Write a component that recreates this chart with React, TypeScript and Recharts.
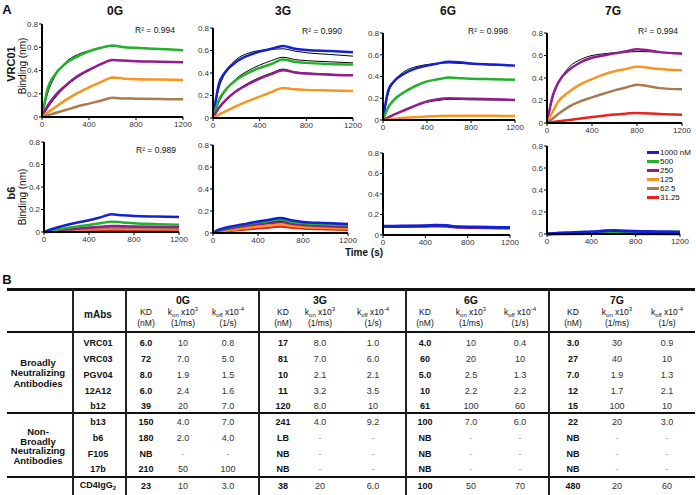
import React from 'react';
import { LineChart, Line, XAxis, YAxis } from 'recharts';

// time points (s)
const TIME = [0, 50, 100, 200, 300, 400, 500, 600, 700, 800, 1000, 1200];

// --- VRC01 row ---
const v0G_500 = [0, 0.25, 0.35, 0.46, 0.52, 0.565, 0.595, 0.615, 0.6, 0.595, 0.585, 0.575];
const v0G_500fit = [0, 0.21, 0.33, 0.47, 0.535, 0.57, 0.595, 0.61, 0.6, 0.595, 0.585, 0.575];
const v0G_250 = [0, 0.1, 0.17, 0.27, 0.35, 0.405, 0.455, 0.49, 0.485, 0.48, 0.475, 0.47];
const v0G_250fit = [0, 0.08, 0.15, 0.26, 0.34, 0.4, 0.45, 0.49, 0.485, 0.48, 0.475, 0.47];
const v0G_125 = [0, 0.04, 0.075, 0.145, 0.205, 0.255, 0.3, 0.34, 0.33, 0.325, 0.322, 0.318];
const v0G_125fit = [0, 0.035, 0.07, 0.14, 0.2, 0.255, 0.3, 0.338, 0.33, 0.326, 0.322, 0.318];
const v0G_62 = [0, 0.015, 0.03, 0.06, 0.09, 0.115, 0.14, 0.165, 0.16, 0.158, 0.155, 0.152];

const v3G_1000 = [0, 0.3, 0.4, 0.5, 0.555, 0.59, 0.615, 0.64, 0.615, 0.605, 0.595, 0.585];
const v3G_1000fit = [0, 0.26, 0.39, 0.52, 0.575, 0.6, 0.61, 0.615, 0.595, 0.58, 0.565, 0.55];
const v3G_500 = [0, 0.16, 0.24, 0.34, 0.4, 0.445, 0.48, 0.52, 0.5, 0.49, 0.48, 0.475];
const v3G_500fit = [0, 0.14, 0.23, 0.35, 0.42, 0.47, 0.51, 0.54, 0.52, 0.51, 0.5, 0.49];
const v3G_250 = [0, 0.09, 0.15, 0.24, 0.3, 0.35, 0.39, 0.425, 0.405, 0.395, 0.385, 0.38];
const v3G_250fit = [0, 0.08, 0.14, 0.24, 0.31, 0.36, 0.4, 0.435, 0.41, 0.4, 0.39, 0.38];
const v3G_125 = [0, 0.03, 0.055, 0.105, 0.15, 0.19, 0.23, 0.267, 0.255, 0.25, 0.245, 0.24];

const v6G_1000 = [0, 0.28, 0.355, 0.43, 0.475, 0.5, 0.52, 0.535, 0.53, 0.52, 0.51, 0.5];
const v6G_1000fit = [0, 0.25, 0.35, 0.45, 0.49, 0.51, 0.52, 0.525, 0.52, 0.515, 0.505, 0.5];
const v6G_500 = [0, 0.12, 0.185, 0.26, 0.315, 0.355, 0.375, 0.39, 0.385, 0.38, 0.375, 0.37];
const v6G_250 = [0, 0.025, 0.05, 0.092, 0.135, 0.17, 0.19, 0.2, 0.197, 0.195, 0.19, 0.185];
const v6G_250fit = [0, 0.025, 0.05, 0.095, 0.135, 0.165, 0.18, 0.19, 0.188, 0.186, 0.184, 0.182];
const v6G_125 = [0, 0.005, 0.01, 0.02, 0.027, 0.032, 0.037, 0.04, 0.04, 0.039, 0.038, 0.037];

const v7G_250 = [0, 0.24, 0.36, 0.475, 0.54, 0.58, 0.6, 0.62, 0.635, 0.655, 0.63, 0.615];
const v7G_250fit = [0, 0.22, 0.35, 0.5, 0.565, 0.6, 0.615, 0.625, 0.63, 0.635, 0.63, 0.62];
const v7G_125 = [0, 0.1, 0.19, 0.28, 0.345, 0.39, 0.43, 0.46, 0.48, 0.5, 0.48, 0.468];
const v7G_62 = [0, 0.04, 0.08, 0.148, 0.195, 0.228, 0.26, 0.29, 0.315, 0.34, 0.31, 0.3];
const v7G_31 = [0, 0.008, 0.015, 0.027, 0.04, 0.053, 0.065, 0.075, 0.083, 0.09, 0.08, 0.074];

// --- b6 row ---
const b0G_1000 = [0, 0.02, 0.035, 0.062, 0.085, 0.105, 0.13, 0.157, 0.148, 0.142, 0.137, 0.133];
const b0G_500 = [0, 0.01, 0.018, 0.035, 0.05, 0.062, 0.078, 0.092, 0.085, 0.078, 0.07, 0.065];
const b0G_250 = [0, 0.006, 0.012, 0.022, 0.031, 0.039, 0.046, 0.054, 0.051, 0.049, 0.046, 0.044];
const b0G_62 = [0, 0.005, 0.009, 0.017, 0.024, 0.03, 0.035, 0.04, 0.038, 0.036, 0.034, 0.032];
const b0G_125 = [0, 0.004, 0.007, 0.013, 0.019, 0.024, 0.028, 0.032, 0.03, 0.028, 0.026, 0.025];
const b0G_31 = [0, 0.002, 0.004, 0.008, 0.012, 0.015, 0.018, 0.02, 0.019, 0.018, 0.017, 0.016];

const b3G_1000 = [0, 0.03, 0.045, 0.066, 0.085, 0.105, 0.12, 0.136, 0.115, 0.1, 0.09, 0.082];
const b3G_500 = [0, 0.025, 0.04, 0.06, 0.078, 0.095, 0.108, 0.12, 0.1, 0.088, 0.078, 0.07];
const b3G_fit = [0, 0.02, 0.035, 0.058, 0.075, 0.09, 0.1, 0.11, 0.095, 0.082, 0.072, 0.065];
const b3G_250 = [0, 0.02, 0.032, 0.05, 0.066, 0.08, 0.09, 0.1, 0.085, 0.072, 0.062, 0.055];
const b3G_125 = [0, 0.012, 0.02, 0.035, 0.048, 0.058, 0.067, 0.078, 0.065, 0.055, 0.047, 0.04];
const b3G_31 = [0, 0.008, 0.014, 0.025, 0.035, 0.043, 0.05, 0.058, 0.05, 0.042, 0.035, 0.03];

const b6G_1000 = [0.085, 0.085, 0.086, 0.087, 0.088, 0.09, 0.095, 0.093, 0.08, 0.078, 0.075, 0.072];
const b6G_250 = [0.082, 0.082, 0.083, 0.084, 0.085, 0.086, 0.088, 0.086, 0.076, 0.074, 0.071, 0.068];

const b7G_1000 = [0, 0.005, 0.008, 0.012, 0.016, 0.02, 0.027, 0.032, 0.028, 0.024, 0.021, 0.018];
const b7G_500 = [0, 0.002, 0.003, 0.005, 0.006, 0.007, 0.008, 0.009, 0.007, 0.006, 0.004, 0.003];
const b7G_250 = [0, 0.001, 0.002, 0.003, 0.003, 0.004, 0.004, 0.005, 0.004, 0.003, 0.002, 0.002];

// legend
const concLabels = ['1000 nM', '500', '250', '125', '62.5', '31.25'];
const BLUE = '#1420d2';
const GREEN = '#22b02a';
const PURPLE = '#921c90';
const ORANGE = '#f7961e';
const BROWN = '#a67b50';
const RED = '#e8231f';
const concColors = [BLUE, GREEN, PURPLE, ORANGE, BROWN, RED];

// table
const mAbs = ['VRC01', 'VRC03', 'PGV04', '12A12', 'b12', 'b13', 'b6', 'F105', '17b', 'CD4IgG2'];
const kd0G = ['6.0', '72', '8.0', '6.0', '39', '150', '180', 'NB', '210', '23'];
const kon0G = ['10', '7.0', '1.9', '2.4', '20', '4.0', '2.0', '-', '50', '10'];
const koff0G = ['0.8', '5.0', '1.5', '1.6', '7.0', '7.0', '4.0', '-', '100', '3.0'];
const kd3G = ['17', '81', '10', '11', '120', '241', 'LB', 'NB', 'NB', '38'];
const kon3G = ['8.0', '7.0', '2.1', '3.2', '8.0', '4.0', '-', '-', '-', '20'];
const koff3G = ['1.0', '6.0', '2.1', '3.5', '10', '9.2', '-', '-', '-', '6.0'];
const kd6G = ['4.0', '60', '5.0', '10', '61', '100', 'NB', 'NB', 'NB', '100'];
const kon6G = ['10', '20', '2.5', '2.2', '100', '7.0', '-', '-', '-', '50'];
const koff6G = ['0.4', '10', '1.3', '2.2', '60', '6.0', '-', '-', '-', '70'];
const kd7G = ['3.0', '27', '7.0', '12', '15', '22', 'NB', 'NB', 'NB', '480'];
const kon7G = ['30', '40', '1.9', '1.7', '100', '20', '-', '-', '-', '20'];
const koff7G = ['0.9', '10', '1.3', '2.1', '10', '3.0', '-', '-', '-', '60'];

type S = { key: string; color: string; values: number[]; w?: number };

const FONT = '"Liberation Sans", Arial, sans-serif';

const Panel = ({ px, py, pw, ph, series }: { px: number; py: number; pw: number; ph: number; series: S[] }) => {
  const data = TIME.map((t, i) => {
    const r: any = { t };
    series.forEach((s) => (r[s.key] = s.values[i]));
    return r;
  });
  return (
    <div style={{ position: 'absolute', left: px - 22, top: py - 5 }}>
      <LineChart width={22 + pw + 10} height={5 + ph + 14} data={data} margin={{ top: 5, right: 10, left: 0, bottom: 0 }}>
        <XAxis
          type="number"
          dataKey="t"
          domain={[0, 1200]}
          ticks={[0, 400, 800, 1200]}
          interval={0}
          height={14}
          tickSize={3}
          tickMargin={1}
          tick={{ fontSize: 8, fill: '#333', fontFamily: FONT }}
          axisLine={{ stroke: '#000', strokeWidth: 2 }}
          tickLine={{ stroke: '#000' }}
        />
        <YAxis
          type="number"
          domain={[0, 0.8]}
          ticks={[0, 0.2, 0.4, 0.6, 0.8]}
          interval={0}
          width={22}
          tickSize={3}
          tickMargin={1}
          tick={{ fontSize: 8, fill: '#333', fontFamily: FONT }}
          axisLine={{ stroke: '#000', strokeWidth: 2 }}
          tickLine={{ stroke: '#000' }}
        />
        {series.map((s) => (
          <Line
            key={s.key}
            dataKey={s.key}
            type="monotone"
            stroke={s.color}
            strokeWidth={s.w ?? 2.5}
            dot={false}
            isAnimationActive={false}
          />
        ))}
      </LineChart>
    </div>
  );
};

const Txt = ({ x, y, children, style }: any) => (
  <div
    style={{
      position: 'absolute',
      left: x,
      top: y,
      transform: 'translate(-50%, -50%)',
      whiteSpace: 'nowrap',
      lineHeight: 1,
      color: '#111',
      ...style,
    }}
  >
    {children}
  </div>
);

const VTxt = ({ x, y, children, style }: any) => (
  <Txt x={x} y={y} style={{ transform: 'translate(-50%, -50%) rotate(-90deg)', ...style }}>
    {children}
  </Txt>
);

// fitted curves are drawn first, thin black, under the data
const fit = (key: string, values: number[]): S => ({ key, color: '#000', values, w: 1 });

const rowY = [343, 359, 375, 391, 406, 422, 438, 454, 469, 486];
const groups = [
  { name: '0G', x: [146, 183, 228], cols: [kd0G, kon0G, koff0G] },
  { name: '3G', x: [283, 320, 373], cols: [kd3G, kon3G, koff3G] },
  { name: '6G', x: [425, 471, 520], cols: [kd6G, kon6G, koff6G] },
  { name: '7G', x: [573, 617, 667], cols: [kd7G, kon7G, koff7G] },
];

const Table = () => {
  const small = { fontSize: 6, verticalAlign: 'sub' as const };
  const sup = { fontSize: 6, verticalAlign: 'super' as const };
  const hl = (y: number, h: number) => (
    <div style={{ position: 'absolute', left: 7, width: 688, top: y, height: h, background: '#111' }} />
  );
  const head = { fontSize: 8.5, color: '#111' };
  return (
    <>
      {hl(288, 3)}
      {hl(331, 1.5)}
      {hl(412, 2)}
      {hl(476, 2)}
      {[72, 125, 258, 405, 548].map((x) => (
        <div key={x} style={{ position: 'absolute', left: x, top: 289, width: 1.5, height: 206, background: '#222' }} />
      ))}
      <Txt x={98} y={315} style={{ fontSize: 10, fontWeight: 700 }}>mAbs</Txt>
      {groups.map((g) => (
        <React.Fragment key={g.name}>
          <Txt x={g.x[1]} y={300} style={{ fontSize: 10.5, fontWeight: 700 }}>{g.name}</Txt>
          <Txt x={g.x[0]} y={312} style={head}>KD</Txt>
          <Txt x={g.x[0]} y={323} style={head}>(nM)</Txt>
          <Txt x={g.x[1]} y={312} style={head}>
            k<span style={small}>on</span> x10<span style={sup}>3</span>
          </Txt>
          <Txt x={g.x[1]} y={323} style={head}>(1/ms)</Txt>
          <Txt x={g.x[2]} y={312} style={head}>
            k<span style={small}>off</span> x10<span style={sup}>-4</span>
          </Txt>
          <Txt x={g.x[2]} y={323} style={head}>(1/s)</Txt>
          {g.cols.map((col, ci) =>
            col.map((v, ri) => (
              <Txt
                key={ci + '-' + ri}
                x={g.x[ci]}
                y={rowY[ri]}
                style={{ fontSize: 9, fontWeight: ci === 0 ? 700 : 400, color: ci === 0 ? '#111' : v === '-' ? '#999' : '#333' }}
              >
                {v}
              </Txt>
            )),
          )}
        </React.Fragment>
      ))}
      {mAbs.map((m, i) => (
        <Txt key={m} x={98} y={rowY[i]} style={{ fontSize: 9, fontWeight: 700 }}>
          {m === 'CD4IgG2' ? (
            <>
              CD4IgG<span style={small}>2</span>
            </>
          ) : (
            m
          )}
        </Txt>
      ))}
      <Txt x={38} y={373} style={{ fontSize: 9.5, fontWeight: 700, textAlign: 'center', lineHeight: '10.3px', whiteSpace: 'normal', width: 70 }}>
        Broadly
        <br />
        Neutralizing
        <br />
        Antibodies
      </Txt>
      <Txt x={38} y={446} style={{ fontSize: 9.5, fontWeight: 700, textAlign: 'center', lineHeight: '9.6px', whiteSpace: 'normal', width: 70 }}>
        Non-
        <br />
        Broadly
        <br />
        Neutralizing
        <br />
        Antibodies
      </Txt>
    </>
  );
};

const legendY = [152.5, 161.5, 170.5, 179.5, 188.5, 197.5];

export default function App() {
  return (
    <div
      style={{
        position: 'absolute',
        left: 0,
        top: 0,
        width: 696,
        height: 495,
        background: '#fff',
        fontFamily: FONT,
        color: '#111',
        overflow: 'hidden',
      }}
    >
      <Txt x={7} y={9} style={{ fontSize: 13, fontWeight: 700 }}>A</Txt>
      <Txt x={7} y={279} style={{ fontSize: 13, fontWeight: 700 }}>B</Txt>

      {[['0G', 115], ['3G', 283], ['6G', 448], ['7G', 613]].map(([t, x]) => (
        <Txt key={t as string} x={x} y={11} style={{ fontSize: 12, fontWeight: 700 }}>{t}</Txt>
      ))}

      <VTxt x={11} y={64} style={{ fontSize: 11, fontWeight: 700 }}>VRC01</VTxt>
      <VTxt x={22.5} y={66} style={{ fontSize: 10 }}>Binding (nm)</VTxt>
      <VTxt x={11} y={193} style={{ fontSize: 11, fontWeight: 700 }}>b6</VTxt>
      <VTxt x={22.5} y={197} style={{ fontSize: 10 }}>Binding (nm)</VTxt>

      <Panel
        px={42} py={24} pw={141} ph={93}
        series={[
          fit('fa', v0G_500fit),
          fit('fb', v0G_250fit),
          fit('fc', v0G_125fit),
          { key: 'a', color: GREEN, values: v0G_500 },
          { key: 'b', color: PURPLE, values: v0G_250 },
          { key: 'c', color: ORANGE, values: v0G_125 },
          { key: 'd', color: BROWN, values: v0G_62 },
        ]}
      />
      <Panel
        px={213} py={28} pw={140} ph={90}
        series={[
          fit('fa', v3G_1000fit),
          fit('fb', v3G_500fit),
          fit('fc', v3G_250fit),
          { key: 'a', color: BLUE, values: v3G_1000 },
          { key: 'b', color: GREEN, values: v3G_500 },
          { key: 'c', color: PURPLE, values: v3G_250 },
          { key: 'd', color: ORANGE, values: v3G_125 },
        ]}
      />
      <Panel
        px={383} py={33} pw={132} ph={87}
        series={[
          fit('fa', v6G_1000fit),
          fit('fc', v6G_250fit),
          { key: 'a', color: BLUE, values: v6G_1000 },
          { key: 'b', color: GREEN, values: v6G_500 },
          { key: 'c', color: PURPLE, values: v6G_250 },
          { key: 'd', color: ORANGE, values: v6G_125 },
        ]}
      />
      <Panel
        px={547} py={33} pw={135} ph={90}
        series={[
          fit('fa', v7G_250fit),
          { key: 'a', color: PURPLE, values: v7G_250 },
          { key: 'b', color: ORANGE, values: v7G_125 },
          { key: 'c', color: BROWN, values: v7G_62 },
          { key: 'd', color: RED, values: v7G_31 },
        ]}
      />

      <Panel
        px={44} py={142} pw={135} ph={90}
        series={[
          { key: 'a', color: RED, values: b0G_31 },
          { key: 'b', color: ORANGE, values: b0G_125 },
          { key: 'c', color: BROWN, values: b0G_62 },
          { key: 'd', color: PURPLE, values: b0G_250 },
          { key: 'e', color: GREEN, values: b0G_500 },
          { key: 'f', color: BLUE, values: b0G_1000 },
        ]}
      />
      <Panel
        px={213} py={145} pw={135} ph={88}
        series={[
          { key: 'a', color: RED, values: b3G_31 },
          { key: 'b', color: ORANGE, values: b3G_125 },
          { key: 'c', color: PURPLE, values: b3G_250 },
          fit('fd', b3G_fit),
          { key: 'd', color: GREEN, values: b3G_500 },
          { key: 'e', color: BLUE, values: b3G_1000 },
        ]}
      />
      <Panel
        px={383} py={153} pw={127} ph={82}
        series={[
          { key: 'a', color: PURPLE, values: b6G_250, w: 3 },
          { key: 'b', color: BLUE, values: b6G_1000, w: 3 },
        ]}
      />
      <Panel
        px={547} py={146} pw={133} ph={88}
        series={[
          { key: 'a', color: PURPLE, values: b7G_250, w: 3 },
          { key: 'b', color: GREEN, values: b7G_500, w: 3 },
          { key: 'c', color: BLUE, values: b7G_1000, w: 3 },
        ]}
      />

      <Txt x={155} y={30} style={{ fontSize: 8.5 }}>R² = 0.994</Txt>
      <Txt x={322} y={31} style={{ fontSize: 8.5 }}>R² = 0.990</Txt>
      <Txt x={488} y={31} style={{ fontSize: 8.5 }}>R² = 0.998</Txt>
      <Txt x={658} y={31} style={{ fontSize: 8.5 }}>R² = 0.994</Txt>
      <Txt x={156} y={150} style={{ fontSize: 8.5 }}>R² = 0.989</Txt>

      <Txt x={364} y={253} style={{ fontSize: 10, fontWeight: 700 }}>Time (s)</Txt>

      {concLabels.map((l, i) => (
        <React.Fragment key={l}>
          <div style={{ position: 'absolute', left: 647, top: legendY[i] - 1.5, width: 12, height: 3, background: concColors[i] }} />
          <div style={{ position: 'absolute', left: 660, top: legendY[i] - 4, height: 8, fontSize: 7.9, lineHeight: '8px', whiteSpace: 'nowrap', color: '#111' }}>{l}</div>
        </React.Fragment>
      ))}

      <Table />
    </div>
  );
}
